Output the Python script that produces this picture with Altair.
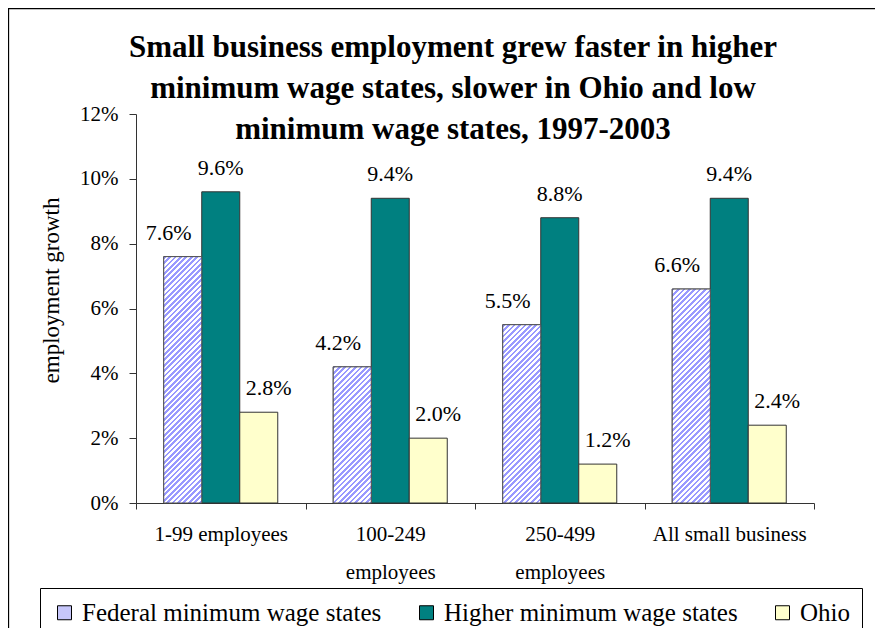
import altair as alt
import pandas as pd

# ---------------- data ----------------
categories = ["1-99 employees", "100-249 employees", "250-499 employees", "All small business"]
series = ["Federal minimum wage states", "Higher minimum wage states", "Ohio"]
federal = [7.6, 4.2, 5.5, 6.6]
higher = [9.6, 9.4, 8.8, 9.4]
ohio = [2.8, 2.0, 1.2, 2.4]
y_ticks = [0, 2, 4, 6, 8, 10, 12]
title_lines = [
    "Small business employment grew faster in higher",
    "minimum wage states, slower in Ohio and low",
    "minimum wage states, 1997-2003",
]
y_title = "employment growth"

rows = []
for s, vals in zip(series, [federal, higher, ohio]):
    for c, v in zip(categories, vals):
        rows.append({"category": c, "series": s, "value": v})
df = pd.DataFrame(rows)

# ---------------- layout / style ----------------
FONT = "Liberation Serif"
PLOT_W, PLOT_H = 678, 389
Y_MAX = 12
OUTER = 0.73
BAR_W = PLOT_W / len(categories) / (len(series) + 2 * OUTER)
STRIPE = "#9999FF"
PERIOD = 5.4
BLUE_FRAC = 0.5
colors = ["#C6C6FA", "#008080", "#FFFFCC"]
label_dx = [-14, 0, 10]


def hatch(v):
    """Diagonal '/' stripe fill for a bar of value v (bbox-relative linear gradient)."""
    h = v * PLOT_H / Y_MAX
    r = h / BAR_W
    norm = BAR_W * (1 + r * r)
    total = BAR_W + h
    stops = []
    s = 0.0
    while s < total:
        a = min(s / norm, 1)
        b = min((s + PERIOD * BLUE_FRAC) / norm, 1)
        c = min((s + PERIOD) / norm, 1)
        stops += [
            {"offset": round(a, 5), "color": STRIPE},
            {"offset": round(b, 5), "color": STRIPE},
            {"offset": round(b, 5), "color": "#FFFFFF"},
            {"offset": round(c, 5), "color": "#FFFFFF"},
        ]
        s += PERIOD
    return {"gradient": "linear", "x1": 0, "y1": 0, "x2": 1, "y2": r, "stops": stops}


x_label_expr = (
    "datum.label == '100-249 employees' ? ['100-249', 'employees'] : "
    "datum.label == '250-499 employees' ? ['250-499', 'employees'] : datum.label"
)

x_enc = alt.X(
    "category:N",
    scale=alt.Scale(domain=categories, paddingInner=0, paddingOuter=0),
    axis=alt.Axis(
        title=None, labelAngle=0, labelFont=FONT, labelFontSize=21, labelColor="black",
        labelExpr=x_label_expr, labelLineHeight=38, labelPadding=14, labelLimit=300,
        tickBand="extent", tickSize=6, tickColor="#333333", domainColor="#333333",
        labelBaseline="top",
    ),
)
xoff_enc = alt.XOffset(
    "series:N", scale=alt.Scale(domain=series, paddingInner=0, paddingOuter=OUTER)
)
y_enc = alt.Y(
    "value:Q",
    scale=alt.Scale(domain=[0, Y_MAX], nice=False),
    axis=alt.Axis(
        values=y_ticks, labelExpr="datum.value + '%'", grid=False,
        labelFont=FONT, labelFontSize=21, labelColor="black", labelPadding=11,
        tickSize=7, tickColor="#333333", domainColor="#333333",
        title=y_title, titleFont=FONT, titleFontSize=23, titleFontWeight="normal",
        titleColor="black", titleX=-78, titleY=176, titleAngle=-90,
        titleBaseline="alphabetic", titleAlign="center",
    ),
)

base = alt.Chart(df)

bars = base.mark_bar(stroke="#333333", strokeWidth=1).encode(
    x=x_enc,
    xOffset=xoff_enc,
    y=y_enc,
    color=alt.Color(
        "series:N",
        scale=alt.Scale(domain=series, range=colors),
        legend=alt.Legend(
            title=None, orient="none", legendX=-96, legendY=474, direction="horizontal",
            symbolType="square", symbolSize=196, symbolStrokeColor="#000000",
            symbolStrokeWidth=1, labelFont=FONT, labelFontSize=25, labelColor="black",
            labelLimit=400, labelOffset=5, columnPadding=32, padding=12,
            strokeColor="#000000", fillColor="#FFFFFF",
        ),
    ),
)

layers = [bars]

# hatched overlays for the federal series
for c, v in zip(categories, federal):
    layers.append(
        base.transform_filter(
            (alt.datum.category == c) & (alt.datum.series == series[0])
        )
        .mark_bar(fill=hatch(v), stroke="#555555", strokeWidth=1)
        .encode(x=x_enc, xOffset=xoff_enc, y=y_enc)
    )

# value labels
for s, dx in zip(series, label_dx):
    layers.append(
        base.transform_filter(alt.datum.series == s)
        .transform_calculate(label="format(datum.value, '.1f') + '%'")
        .mark_text(font=FONT, fontSize=22, color="black", dx=dx, dy=-17, baseline="alphabetic")
        .encode(x=x_enc, xOffset=xoff_enc, y=y_enc, text="label:N")
    )

# outer chart frame
frame = alt.Chart(alt.Data(values=[{}])).mark_rect(
    fillOpacity=0, stroke="#000000", strokeWidth=1.3
).encode(
    x=alt.value(-127.5), y=alt.value(-105.5), x2=alt.value(1000), y2=alt.value(1000)
)
layers.append(frame)

chart = alt.layer(*layers).properties(
    width=PLOT_W,
    height=PLOT_H,
    background="white",
    autosize=alt.AutoSizeParams(type="none"),
    padding={"left": 128, "top": 106, "right": 61, "bottom": 125},
    title=alt.TitleParams(
        text=title_lines, font=FONT, fontSize=31, fontWeight="bold", color="black",
        lineHeight=41, anchor="middle", dx=-22, baseline="top", offset=-138,
    ),
).configure_view(strokeWidth=0)

chart.save("out.html", embed_options={"renderer": "svg", "actions": False})
